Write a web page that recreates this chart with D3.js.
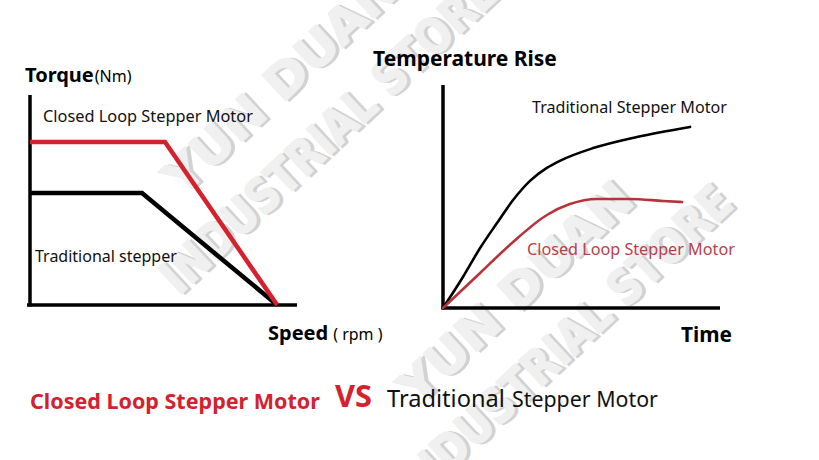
<!DOCTYPE html>
<html>
<head>
<meta charset="utf-8">
<script src="https://cdn.jsdelivr.net/npm/d3@7"></script>
<style>
  html, body { margin: 0; padding: 0; background: #fff; }
  svg { display: block; }
</style>
</head>
<body>
<svg id="chart" width="819" height="460"></svg>
<script>
// ---------- DATA ----------
// Left chart: torque vs speed (arbitrary units 0-100)
const closedLoopTorque = [
  { speed: 0, torque: 77.6 },
  { speed: 54.6, torque: 77.6 },
  { speed: 100, torque: 0 }
];
const traditionalTorque = [
  { speed: 0, torque: 53.3 },
  { speed: 45.3, torque: 53.3 },
  { speed: 100, torque: 0 }
];
// Right chart: temperature rise vs time (arbitrary units 0-100)
const traditionalTemp = [
  { time: 0, temp: 0 }, { time: 7.2, temp: 13.9 }, { time: 13.4, temp: 26.9 },
  { time: 19.5, temp: 38.1 }, { time: 25.3, temp: 48.4 }, { time: 31.4, temp: 57.0 },
  { time: 37.5, temp: 62.8 }, { time: 42.2, temp: 66.0 }, { time: 54.2, temp: 71.7 },
  { time: 70, temp: 76.7 }, { time: 89.2, temp: 81.2 }
];
const closedLoopTemp = [
  { time: 0, temp: 0 }, { time: 13.4, temp: 15.7 }, { time: 25.3, temp: 29.6 },
  { time: 37.5, temp: 41.7 }, { time: 45.8, temp: 46.6 }, { time: 55.6, temp: 48.9 },
  { time: 67.5, temp: 48.9 }, { time: 79.4, temp: 48.0 }, { time: 86.3, temp: 47.5 }
];
const labels = {
  torque: "Torque", torqueUnit: "(Nm)",
  speed: "Speed", speedUnit: "( rpm )",
  tempTitle: "Temperature Rise", time: "Time",
  closed: "Closed Loop Stepper Motor",
  tradShort: "Traditional stepper",
  trad: "Traditional Stepper Motor",
  vs: "VS", tradWord: "Traditional", stepperMotor: "Stepper Motor"
};
const watermarkLines = ["YUN DUAN", "INDUSTRIAL STORE"];

// ---------- SETUP ----------
const svg = d3.select("#chart");
const FONT = "'Noto Sans', 'Open Sans', sans-serif";
const RED = "#d3222d";
const DARKRED = "#b8323b";

function fit(sel, w) {
  const l = sel.node().getComputedTextLength();
  const fs = parseFloat(sel.attr("font-size"));
  sel.attr("font-size", fs * w / l);
  return sel;
}

// ---------- WATERMARK ----------
const wm = svg.append("g").attr("class", "watermark");
function drawWatermark(cx, cy, lines) {
  const g = wm.append("g").attr("transform", `translate(${cx},${cy}) rotate(-43)`);
  lines.forEach((t, i) => {
    const yy = i === 0 ? -34 : 36;
    const w = i === 0 ? 300 : 440;
    g.append("text").attr("x", 2.5).attr("y", yy + 2.5)
      .attr("text-anchor", "middle").attr("font-family", "'DejaVu Sans', sans-serif")
      .attr("font-weight", "bold").attr("font-size", 48)
      .attr("textLength", w).attr("lengthAdjust", "spacingAndGlyphs")
      .attr("fill", "#d2d2d2").attr("stroke", "#d2d2d2").attr("stroke-width", 2)
      .attr("stroke-linejoin", "round").text(t);
    g.append("text").attr("x", 0).attr("y", yy)
      .attr("text-anchor", "middle").attr("font-family", "'DejaVu Sans', sans-serif")
      .attr("font-weight", "bold").attr("font-size", 48)
      .attr("textLength", w).attr("lengthAdjust", "spacingAndGlyphs")
      .attr("fill", "#f0f0f0").attr("stroke", "#f0f0f0").attr("stroke-width", 1.5)
      .attr("stroke-linejoin", "round").text(t);
  });
}
drawWatermark(315, 120, watermarkLines);
drawWatermark(550, 330, watermarkLines);

// ---------- LEFT CHART ----------
const xL = d3.scaleLinear().domain([0, 108]).range([30, 297]);
const yL = d3.scaleLinear().domain([0, 100]).range([305, 95]);
const left = svg.append("g");

left.append("g").attr("transform", `translate(0,${yL(0)})`)
  .call(d3.axisBottom(xL).tickValues([]).tickSizeOuter(0))
  .call(g => g.select(".domain").attr("stroke", "#000").attr("stroke-width", 3.5)
    .attr("d", `M${xL(0) - 3},0H${xL(108)}`));
left.append("g").attr("transform", `translate(${xL(0)},0)`)
  .call(d3.axisLeft(yL).tickValues([]).tickSizeOuter(0))
  .call(g => g.select(".domain").attr("stroke", "#000").attr("stroke-width", 3.5)
    .attr("d", `M0,${yL(100)}V${yL(0) + 1.5}`));

const lineL = d3.line().x(d => xL(d.speed)).y(d => yL(d.torque));
left.append("path").datum(traditionalTorque).attr("d", lineL)
  .attr("fill", "none").attr("stroke", "#000").attr("stroke-width", 4.5).attr("stroke-linejoin", "miter");
left.append("path").datum(closedLoopTorque).attr("d", lineL)
  .attr("fill", "none").attr("stroke", RED).attr("stroke-width", 4.5).attr("stroke-linejoin", "miter");

const tq = left.append("text").attr("x", 25).attr("y", 82).attr("font-family", FONT);
tq.append("tspan").attr("font-weight", "bold").attr("font-size", 20).text(labels.torque);
tq.append("tspan").attr("font-size", 16).attr("dx", 1).text(labels.torqueUnit);

fit(left.append("text").attr("x", 43).attr("y", 122).attr("font-family", FONT)
  .attr("font-size", 15).attr("fill", "#111").text(labels.closed), 210);
fit(left.append("text").attr("x", 35).attr("y", 262).attr("font-family", FONT)
  .attr("font-size", 15).attr("fill", "#111").text(labels.tradShort), 142);

const sp = left.append("text").attr("x", 268).attr("y", 340).attr("font-family", FONT);
sp.append("tspan").attr("font-weight", "bold").attr("font-size", 20).text(labels.speed);
sp.append("tspan").attr("font-size", 16).attr("dx", 5).text(labels.speedUnit);

// ---------- RIGHT CHART ----------
const xR = d3.scaleLinear().domain([0, 100]).range([443, 720]);
const yR = d3.scaleLinear().domain([0, 100]).range([308, 85]);
const right = svg.append("g");

right.append("g").attr("transform", `translate(0,${yR(0)})`)
  .call(d3.axisBottom(xR).tickValues([]).tickSizeOuter(0))
  .call(g => g.select(".domain").attr("stroke", "#000").attr("stroke-width", 3.5)
    .attr("d", `M${xR(0) - 1.5},0H${xR(100)}`));
right.append("g").attr("transform", `translate(${xR(0)},0)`)
  .call(d3.axisLeft(yR).tickValues([]).tickSizeOuter(0))
  .call(g => g.select(".domain").attr("stroke", "#000").attr("stroke-width", 3.5)
    .attr("d", `M0,${yR(100)}V${yR(0) + 1.5}`));

const lineR = d3.line().x(d => xR(d.time)).y(d => yR(d.temp)).curve(d3.curveMonotoneX);
right.append("path").datum(traditionalTemp).attr("d", lineR)
  .attr("fill", "none").attr("stroke", "#000").attr("stroke-width", 2.6).attr("stroke-linecap", "round");
right.append("path").datum(closedLoopTemp).attr("d", lineR)
  .attr("fill", "none").attr("stroke", DARKRED).attr("stroke-width", 2.6).attr("stroke-linecap", "round");

fit(right.append("text").attr("x", 373).attr("y", 66).attr("font-family", FONT)
  .attr("font-weight", "bold").attr("font-size", 19).text(labels.tempTitle), 184);
fit(right.append("text").attr("x", 532).attr("y", 113).attr("font-family", FONT)
  .attr("font-size", 15).attr("fill", "#111").text(labels.trad), 195);
fit(right.append("text").attr("x", 527).attr("y", 255).attr("font-family", FONT)
  .attr("font-size", 15).attr("fill", "#b8404a").text(labels.closed), 208);
fit(right.append("text").attr("x", 681).attr("y", 342).attr("font-family", FONT)
  .attr("font-weight", "bold").attr("font-size", 20).text(labels.time), 51);

// ---------- BOTTOM CAPTION ----------
const cap = svg.append("g");
fit(cap.append("text").attr("x", 30).attr("y", 409).attr("font-family", FONT)
  .attr("font-weight", "bold").attr("font-size", 20).attr("fill", RED).text(labels.closed), 290);
fit(cap.append("text").attr("x", 335).attr("y", 407).attr("font-family", FONT)
  .attr("font-weight", "bold").attr("font-size", 32).attr("fill", RED).text(labels.vs), 37);
fit(cap.append("text").attr("x", 387).attr("y", 407).attr("font-family", FONT)
  .attr("font-size", 21).attr("fill", "#111").text(labels.tradWord), 118);
fit(cap.append("text").attr("x", 512).attr("y", 407).attr("font-family", FONT)
  .attr("font-size", 18).attr("fill", "#111").text(labels.stepperMotor), 146);
</script>
</body>
</html>
